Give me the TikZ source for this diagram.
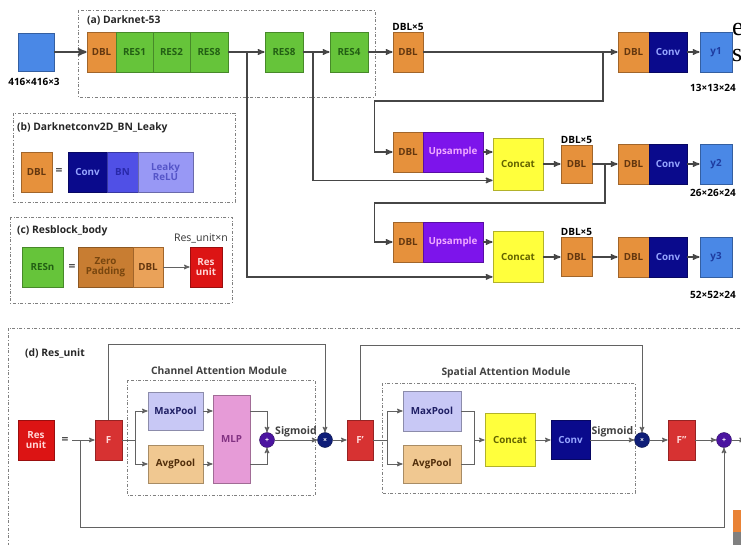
\documentclass[tikz,border=0pt]{standalone}
\usepackage{fontspec}
\setmainfont{Open Sans}
\newfontfamily\pageserif{Liberation Serif}
\usetikzlibrary{arrows}

\definecolor{inblue}{RGB}{74,136,230}
\definecolor{dblorange}{RGB}{230,145,60}
\definecolor{resgreen}{RGB}{102,196,58}
\definecolor{convnavy}{RGB}{10,10,140}
\definecolor{bnblue}{RGB}{80,80,230}
\definecolor{relublue}{RGB}{152,152,245}
\definecolor{upviolet}{RGB}{125,20,235}
\definecolor{catyellow}{RGB}{255,255,60}
\definecolor{zpbrown}{RGB}{200,125,50}
\definecolor{resred}{RGB}{220,20,20}
\definecolor{fred}{RGB}{215,50,50}
\definecolor{maxlav}{RGB}{200,200,245}
\definecolor{avgtan}{RGB}{240,200,145}
\definecolor{mlppink}{RGB}{230,155,215}
\definecolor{pluspurple}{RGB}{75,20,160}
\definecolor{timesnavy}{RGB}{15,30,120}
\definecolor{linegray}{RGB}{70,70,70}
\definecolor{dbltext}{RGB}{100,55,15}
\definecolor{restext}{RGB}{35,95,20}
\definecolor{convtext}{RGB}{150,165,255}
\definecolor{bntext}{RGB}{40,40,170}
\definecolor{relutext}{RGB}{85,85,200}
\definecolor{uptext}{RGB}{240,170,255}
\definecolor{cattext}{RGB}{100,100,0}
\definecolor{zptext}{RGB}{120,70,15}
\definecolor{redtext}{RGB}{255,215,215}
\definecolor{maxtext}{RGB}{30,30,100}
\definecolor{avgtext}{RGB}{80,45,10}
\definecolor{mlptext}{RGB}{130,50,130}
\definecolor{ytext}{RGB}{30,60,160}

\begin{document}
\begin{tikzpicture}[x=1pt, y=-1pt,
	blk/.style={draw=#1!70!black, fill=#1, line width=0.8pt, inner sep=0pt,
		minimum height=40pt, align=center, font=\bfseries\fontsize{9.8}{10.5}\selectfont},
	dbl/.style={blk=dblorange, text=dbltext, minimum width=30pt},
	res/.style={blk=resgreen, text=restext, minimum width=38pt},
	conv/.style={blk=convnavy, text=convtext, minimum width=38pt},
	yout/.style={blk=inblue, text=ytext, minimum width=32pt},
	ups/.style={blk=upviolet, text=uptext, minimum width=60pt},
	cat/.style={blk=catyellow, text=cattext, minimum width=50pt},
	fbox/.style={blk=fred, text=redtext, minimum width=27pt},
	op/.style={circle, fill=#1, draw=#1!60!black, inner sep=0pt, minimum size=15pt,
		text=white, font=\bfseries\fontsize{7}{7}\selectfont},
	lbl/.style={inner sep=1pt, font=\bfseries\fontsize{10}{10}\selectfont},
	title/.style={anchor=west, inner sep=0pt, font=\bfseries\fontsize{10.3}{11}\selectfont, text=black!85},
	sub/.style={inner sep=0pt, font=\bfseries\fontsize{10.3}{11}\selectfont, text=black!75},
	sig/.style={above, inner sep=2pt, font=\bfseries\fontsize{10.5}{11}\selectfont, text=black!75},
	eq/.style={inner sep=0pt, font=\bfseries\fontsize{12}{12}\selectfont, text=black!70},
	frame/.style={draw=gray, dash dot, line width=0.7pt},
	link/.style={draw=linegray, line width=1.4pt, ->, >=stealth'},
	thinlink/.style={draw=linegray!85, line width=1pt, ->, >=stealth'}]
	\useasboundingbox (0,0) rectangle (741,545);
	\clip (0,0) rectangle (741,545);
	% Draw frames
	\draw[frame] (78,10) rectangle (375,97);
	\node[title] (ta) at (87,20) {(a) Darknet-53};
	\draw[frame] (13,113) rectangle (235,202);
	\node[title] (tb) at (17,128) {(b) Darknetconv2D\_BN\_Leaky};
	\draw[frame] (10,217) rectangle (232,303);
	\node[title] (tc) at (17,231) {(c) Resblock\_body};
	\draw[frame] (8,328) rectangle (760,560);
	\node[title] (td) at (25,353) {(d) Res\_unit};
	% Draw backbone
	\node[blk=inblue, minimum width=36pt, minimum height=38pt] (in) at (36,52) {};
	\node[lbl] (insz) at (34,82) {416×416×3};
	\node[dbl, minimum width=29pt] (d0) at (101.5,52) {DBL};
	\node[res, minimum width=37pt] (r1) at (134.5,52) {RES1};
	\node[res, minimum width=37pt] (r2) at (171.5,52) {RES2};
	\node[res] (r8a) at (209,52) {RES8};
	\node[res] (r8b) at (284,52) {RES8};
	\node[res] (r4) at (349,52) {RES4};
	\node[dbl, label={[lbl]above:DBL×5}] (d5a) at (408,52) {DBL};
	\draw[link, line width=2pt] (in) -- (d0);
	\draw[link] (r8a) -- (r8b);
	\draw[link] (r8b) -- (r4);
	\draw[link] (r4) -- (d5a);
	% Draw three heads
	\node[dbl, minimum width=31pt] (o1d) at (633.5,52) {DBL};
	\node[conv] (o1c) at (668,52) {Conv};
	\node[yout] (y1) at (716,52) {y1};
	\node[lbl, anchor=west] (y1sz) at (689,88) {13×13×24};
	\node[dbl] (u1d) at (408,152) {DBL};
	\node[ups] (u1) at (453,152) {Upsample};
	\node[cat, minimum height=52pt] (c1) at (518,164) {Concat};
	\node[dbl, minimum width=31pt, minimum height=38pt, label={[lbl]above:DBL×5}] (d5b) at (576.5,164) {DBL};
	\node[dbl, minimum width=31pt] (o2d) at (633.5,164) {DBL};
	\node[conv] (o2c) at (668,164) {Conv};
	\node[yout] (y2) at (716,164) {y2};
	\node[lbl, anchor=west] (y2sz) at (689,193) {26×26×24};
	\node[dbl] (u2d) at (408,242) {DBL};
	\node[ups] (u2) at (453,242) {Upsample};
	\node[cat, minimum height=51pt] (c2) at (518,257) {Concat};
	\node[dbl, minimum width=31pt, minimum height=39pt, label={[lbl]above:DBL×5}] (d5c) at (576.5,257) {DBL};
	\node[dbl, minimum width=31pt] (o3d) at (633.5,257) {DBL};
	\node[conv] (o3c) at (668,257) {Conv};
	\node[yout] (y3) at (716,257) {y3};
	\node[lbl, anchor=west] (y3sz) at (689,295) {52×52×24};
	\coordinate (s1) at (247,52);
	\coordinate (s2) at (313,52);
	\coordinate (j1) at (603,52);
	\coordinate (j2) at (605,164);
	\draw[link] (s1) |- ([yshift=6pt]c2.south west);
	\draw[link] (s2) |- ([yshift=10pt]c1.south west);
	\draw[link] (d5a) -- (o1d);
	\draw[link] (j1) -- ++(0,49) -| ([xshift=-18pt]u1d.west) -- (u1d.west);
	\draw[link] (u1.east) -- (u1.east -| c1.west);
	\draw[link] (c1) -- (d5b);
	\draw[link] (d5b) -- (o2d);
	\draw[link] (j2) -- ++(0,39) -| ([xshift=-18pt]u2d.west) -- (u2d.west);
	\draw[link] (u2.east) -- (u2.east -| c2.west);
	\draw[link] (c2) -- (d5c);
	\draw[link] (d5c) -- (o3d);
	\draw[link] (o1c) -- (y1);
	\draw[link] (o2c) -- (y2);
	\draw[link] (o3c) -- (y3);
	% Draw DBL and RESn
	\node[dbl, minimum width=31pt] (bd) at (36.5,172) {DBL};
	\node[eq] (beq) at (59,172) {=};
	\node[conv, minimum width=39pt] (bc) at (87.5,172) {Conv};
	\node[blk=bnblue, text=bntext, minimum width=31pt] (bbn) at (122.5,172) {BN};
	\node[blk=relublue, text=relutext, minimum width=55pt] (brl) at (165.5,172) {Leaky\\ReLU};
	\node[res, minimum width=41pt] (cr) at (42.5,267) {RESn};
	\node[eq] (ceq) at (72,267) {=};
	\node[blk=zpbrown, text=zptext, minimum width=55pt] (cz) at (105.5,267) {Zero\\Padding};
	\node[dbl, fill=dblorange!85!white] (cd) at (148,267) {DBL};
	\node[blk=resred, text=redtext, minimum width=32pt] (cu) at (206,267) {Res\\unit};
	\node[inner sep=0pt, font=\fontsize{10.5}{11}\selectfont, text=black!80] (cn) at (201,238) {Res\_unit×n};
	\draw[thinlink] (cd) -- (cu);
	% Draw Res_unit with attention
	\node[blk=resred, text=redtext, minimum width=36pt] (dr) at (36,440) {Res\\unit};
	\node[eq] (deq) at (65,440) {=};
	\coordinate (din) at (72,440);
	\coordinate (dsp) at (80,440);
	\node[fbox] (f) at (108.5,440) {F};
	\draw[thinlink] (din) -- (f);
	\draw[frame] (127,380) rectangle (315,495);
	\node[sub] (tcam) at (219,371) {Channel Attention Module};
	\coordinate (cb1) at (135,440);
	\node[blk=maxlav, text=maxtext, minimum width=55pt, minimum height=38pt] (mx1) at (175.5,411) {MaxPool};
	\node[blk=avgtan, text=avgtext, minimum width=55pt, minimum height=38pt] (av1) at (175.5,464) {AvgPool};
	\node[blk=mlppink, text=mlptext, minimum width=37pt, minimum height=88pt] (mlp) at (231.5,439) {MLP};
	\node[op=pluspurple] (p1) at (267,440) {+};
	\node[op=timesnavy] (t1) at (325,440) {×};
	\draw[thinlink, -] (f) -- (cb1);
	\draw[thinlink] (cb1) |- (mx1);
	\draw[thinlink] (cb1) |- (av1);
	\draw[thinlink] (mx1.east) -- (mx1.east -| mlp.west);
	\draw[thinlink] (av1.east) -- (av1.east -| mlp.west);
	\draw[thinlink] ([yshift=-17pt]mlp.north east) -| (p1);
	\draw[thinlink] ([yshift=19pt]mlp.south east) -| (p1);
	\draw[thinlink] (p1) -- node[sig] {Sigmoid} (t1);
	\draw[thinlink] (f.north) -- ++(0,-75) -| (t1);
	\node[fbox, minimum width=26pt] (fp) at (360,440) {F'};
	\draw[thinlink] (t1) -- (fp);
	\draw[frame] (382,383) rectangle (635,493);
	\node[sub] (tsam) at (506,373) {Spatial Attention Module};
	\coordinate (cb2) at (387,440);
	\coordinate (cm) at (474,440);
	\node[blk=maxlav, text=maxtext, minimum width=58pt] (mx2) at (432,411) {MaxPool};
	\node[blk=avgtan, text=avgtext, minimum width=58pt, minimum height=38pt] (av2) at (432,464) {AvgPool};
	\node[cat, minimum height=53pt] (c3) at (510,440) {Concat};
	\node[conv, minimum width=39pt, minimum height=39pt] (cv3) at (570.5,440) {Conv};
	\node[op=timesnavy] (t2) at (642,440) {×};
	\node[fbox] (fpp) at (681.5,440) {F''};
	\node[op=pluspurple] (p2) at (724,440) {+};
	\coordinate (dout) at (745,440);
	\draw[thinlink, -] (fp) -- (cb2);
	\draw[thinlink] (cb2) |- (mx2);
	\draw[thinlink] (cb2) |- (av2);
	\draw[thinlink, -] (mx2.east) -| (cm);
	\draw[thinlink, -] (av2.east) -| (cm);
	\draw[thinlink] (cm) -- (c3);
	\draw[thinlink] (c3) -- (cv3);
	\draw[thinlink] (cv3) -- node[sig] {Sigmoid} (t2);
	\draw[thinlink] (fp.north) -- ++(0,-74) -| (t2);
	\draw[thinlink] (t2) -- (fpp);
	\draw[thinlink] (fpp) -- (p2);
	\draw[thinlink] (p2) -- (dout);
	\draw[thinlink] (dsp) -- ++(0,87) -| (p2);
	% Page remnants
	\node[anchor=west, inner sep=0pt, font=\pageserif\fontsize{26}{26}\selectfont] (pe) at (732,30) {e};
	\node[anchor=west, inner sep=0pt, font=\pageserif\fontsize{26}{26}\selectfont] (ps) at (732,56) {s};
	\fill[dblorange!90!red] (733,510) rectangle (745,532);
	\fill[gray] (733,532) rectangle (745,545);
\end{tikzpicture}
\end{document}
